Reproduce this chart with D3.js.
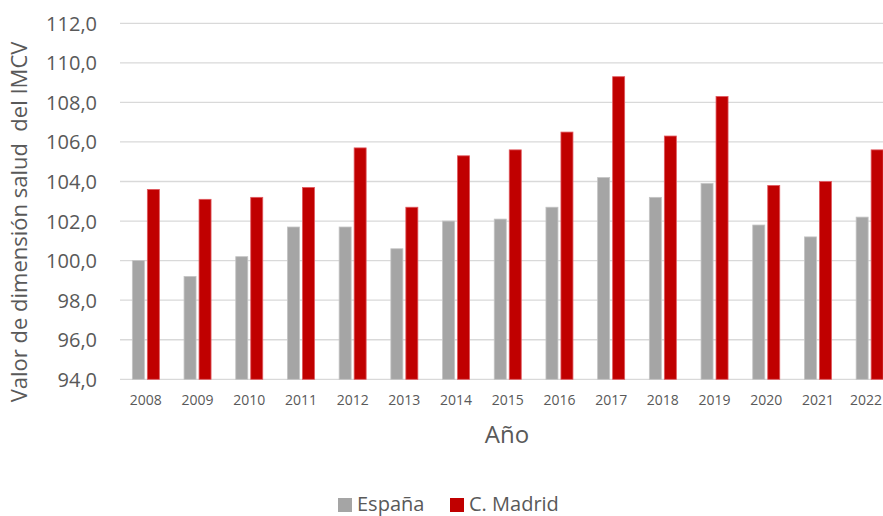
<!DOCTYPE html>
<html>
<head>
<meta charset="utf-8">
<script src="https://cdn.jsdelivr.net/npm/d3@7"></script>
<style>
  body { margin: 0; background: #fff; }
  text { font-family: "Open Sans", sans-serif; fill: #595959; }
</style>
</head>
<body>
<div class="chart-container"></div>
<script>
// data
const years = ["2008", "2009", "2010", "2011", "2012", "2013", "2014", "2015",
  "2016", "2017", "2018", "2019", "2020", "2021", "2022"];
const espana = [100.0, 99.2, 100.2, 101.7, 101.7, 100.6, 102.0, 102.1,
  102.7, 104.2, 103.2, 103.9, 101.8, 101.2, 102.2];
const madrid = [103.6, 103.1, 103.2, 103.7, 105.7, 102.7, 105.3, 105.6,
  106.5, 109.3, 106.3, 108.3, 103.8, 104.0, 105.6];
const seriesNames = ["España", "C. Madrid"];
const yTicks = [94, 96, 98, 100, 102, 104, 106, 108, 110, 112];

const w = 883;
const h = 516;
const colors = ["#a5a5a5", "#c00000"];
const strokes = ["#c4c4c4", "#e0585e"];

const svg = d3
  .select(".chart-container")
  .append("svg")
  .attr("width", w)
  .attr("height", h);

// scales (the plot runs a little past the right edge, as in the original)
const xScale = d3.scaleBand().domain(years).range([120, 895.5]);
const yScale = d3.scaleLinear().domain([94, 112]).range([379.3, 23.3]);
const xSub = d3.scaleBand().domain([0, 1]).range([-13.5, 13.5]).paddingInner(0.2);

// gridlines
svg
  .append("g")
  .selectAll("line")
  .data(yTicks)
  .enter()
  .append("line")
  .attr("x1", 120)
  .attr("x2", w)
  .attr("y1", (d) => yScale(d))
  .attr("y2", (d) => yScale(d))
  .attr("stroke", "#d9d9d9")
  .attr("stroke-width", 1.3);

// y axis labels
const fmt = (d) => d3.format(".1f")(d).replace(".", ",");
const yAxis = d3.axisLeft(yScale).tickValues(yTicks).tickFormat(fmt).tickSize(0).tickPadding(0);
const gy = svg.append("g").attr("transform", "translate(97,0)").call(yAxis);
gy.select(".domain").remove();
gy.selectAll("text")
  .attr("font-size", 20)
  .attr("font-family", "Open Sans")
  .attr("fill", "#595959")
  .attr("dy", "0.35em");

// bars
const groups = svg
  .append("g")
  .selectAll("g")
  .data(years)
  .enter()
  .append("g")
  .attr("transform", (d) => "translate(" + (xScale(d) + xScale.bandwidth() / 2) + ",0)");

groups
  .selectAll("rect")
  .data((d, i) => [espana[i], madrid[i]])
  .enter()
  .append("rect")
  .attr("x", (d, j) => xSub(j))
  .attr("width", xSub.bandwidth())
  .attr("y", (d) => yScale(d))
  .attr("height", (d) => yScale(94) - yScale(d))
  .attr("fill", (d, j) => colors[j])
  .attr("stroke", (d, j) => strokes[j])
  .attr("stroke-width", 0.8);

// x axis labels
const xAxis = d3.axisBottom(xScale).tickSize(0).tickPadding(0);
const gx = svg.append("g").attr("transform", "translate(0,405)").call(xAxis);
gx.select(".domain").remove();
gx.selectAll("text")
  .attr("font-size", 14)
  .attr("font-family", "Open Sans")
  .attr("fill", "#595959")
  .attr("dy", 0);
// last label is pushed in so it stays inside the window
gx.selectAll(".tick")
  .filter((d) => d === "2022")
  .select("text")
  .attr("text-anchor", "end")
  .attr("x", w - 1 - (xScale("2022") + xScale.bandwidth() / 2));

// axis titles
svg
  .append("text")
  .attr("x", 507)
  .attr("y", 443)
  .attr("text-anchor", "middle")
  .attr("font-size", 24)
  .text("Año");

svg
  .append("text")
  .attr("transform", "translate(27,222) rotate(-90)")
  .attr("text-anchor", "middle")
  .attr("font-size", 22)
  .attr("xml:space", "preserve")
  .style("white-space", "pre")
  .text("Valor de dimensión salud  del IMCV");

// legend
const legendX = [338, 450];
const legend = svg
  .append("g")
  .selectAll("g")
  .data(seriesNames)
  .enter()
  .append("g")
  .attr("transform", (d, i) => "translate(" + legendX[i] + ",0)");

legend
  .append("rect")
  .attr("x", 0)
  .attr("y", 498)
  .attr("width", 14)
  .attr("height", 14)
  .attr("fill", (d, i) => colors[i]);

legend
  .append("text")
  .attr("x", 19)
  .attr("y", 511)
  .attr("font-size", 20)
  .text((d) => d);
</script>
</body>
</html>
